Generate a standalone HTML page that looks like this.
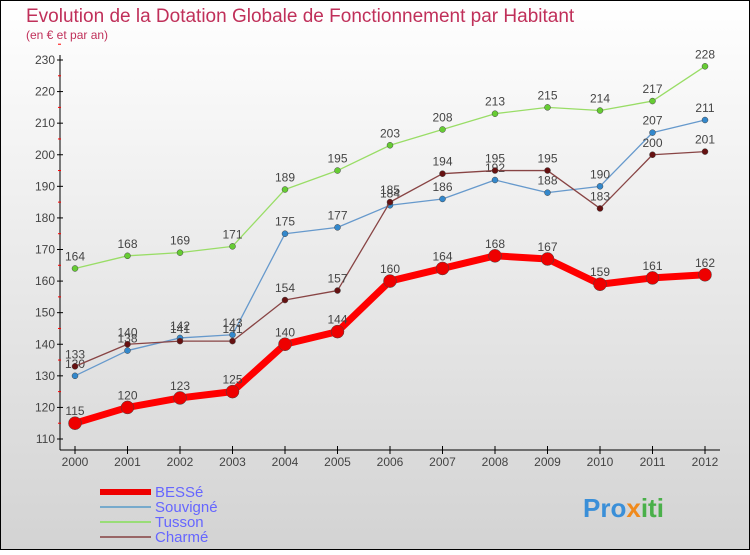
<!DOCTYPE html>
<html><head><meta charset="utf-8"><style>
body{margin:0;width:750px;height:550px;overflow:hidden;font-family:"Liberation Sans",sans-serif}
</style></head><body>
<svg width="750" height="550" xmlns="http://www.w3.org/2000/svg">
<defs><linearGradient id="bg" x1="0" y1="0" x2="0" y2="1"><stop offset="0" stop-color="#ffffff"/><stop offset="1" stop-color="#d3d3d3"/></linearGradient></defs>
<rect x="0.5" y="0.5" width="749" height="549" fill="url(#bg)" stroke="#000"/>
<text x="26" y="22" font-size="19" fill="#c0305a">Evolution de la Dotation Globale de Fonctionnement par Habitant</text>
<text x="26" y="39" font-size="12" fill="#c0305a">(en € et par an)</text>
<g id="axes"></g>
<g id="series"></g>
<g id="legend"></g>
<text x="583" y="517" font-size="26" font-weight="bold" fill="#3a8fd8">Pro<tspan fill="#f08a1c">x</tspan><tspan fill="#4ab04a">iti</tspan></text>
</svg>
<script>
const years=[2000,2001,2002,2003,2004,2005,2006,2007,2008,2009,2010,2011,2012];
const besse=[115,120,123,125,140,144,160,164,168,167,159,161,162];
const souvigne=[130,138,142,143,175,177,184,186,192,188,190,207,211];
const tusson=[164,168,169,171,189,195,203,208,213,215,214,217,228];
const charme=[133,140,141,141,154,157,185,194,195,195,183,200,201];
const yTicks=[110,120,130,140,150,160,170,180,190,200,210,220,230];
const NS="http://www.w3.org/2000/svg";
const X=i=>75+i*52.5;
const Y=v=>439-(v-110)*(379/120);
function mk(t,a,p){const e=document.createElementNS(NS,t);for(const k in a)e.setAttribute(k,a[k]);p.appendChild(e);return e;}
const ax=document.getElementById('axes');
let l=mk('line',{x1:60,y1:55,x2:60,y2:450,stroke:'#000'},ax);


l=mk('line',{x1:60,y1:450,x2:720,y2:450,stroke:'#000'},ax);


yTicks.forEach(v=>{
 mk('line',{x1:57,y1:Y(v),x2:63,y2:Y(v),stroke:'#000'},ax);
 mk('line',{x1:58,y1:Y(v+5),x2:61,y2:Y(v+5),stroke:'#f00'},ax);
 const t=mk('text',{x:55,y:Y(v)+4,'font-size':12,fill:'#444','text-anchor':'end'},ax);
 t.textContent=v;
 
 
});
years.forEach((y,i)=>{
 mk('line',{x1:X(i),y1:446,x2:X(i),y2:454,stroke:'#000'},ax);
 const t=mk('text',{x:X(i),y:466,'font-size':12,fill:'#444','text-anchor':'middle'},ax);
 t.textContent=y;
 
 
});
const sg=document.getElementById('series');
const defs=[['tusson',tusson,'#99dd66','#66cc33',1.3,3],['souvigne',souvigne,'#6699cc','#3388cc',1.3,3],['charme',charme,'#884444','#661111',1.3,3],['besse',besse,'#ff0000','#ee0000',7,6.5]];
defs.forEach(([n,d,c,mc,w,r])=>{
 const pts=d.map((v,i)=>X(i)+','+Y(v)).join(' ');
 const pl=mk('polyline',{points:pts,fill:'none',stroke:c,'stroke-width':w,'stroke-linejoin':'round'},sg);
 
 
 d.forEach((v,i)=>{
  const p=mk('circle',{cx:X(i),cy:Y(v),r:r,fill:mc,stroke:'#444','stroke-width':0.5},sg);
  
  
  const t=mk('text',{x:X(i),y:Y(v)-8,'font-size':12,fill:'#444','text-anchor':'middle'},sg);
  t.textContent=v;
  
  
 });
});
const lg=document.getElementById('legend');
[['BESSé','#ee0000',6],['Souvigné','#77aacc',2],['Tusson','#99dd77',2],['Charmé','#996666',2]].forEach(([n,c,w],i)=>{
 const y=492+i*15;
 const ln=mk('line',{x1:100,y1:y,x2:151,y2:y,stroke:c,'stroke-width':w},lg);
 
 
 const t=mk('text',{x:155,y:y+5,'font-size':15,fill:'#6666ff'},lg);
 t.textContent=n;
 
 
});
</script>
</body></html>
